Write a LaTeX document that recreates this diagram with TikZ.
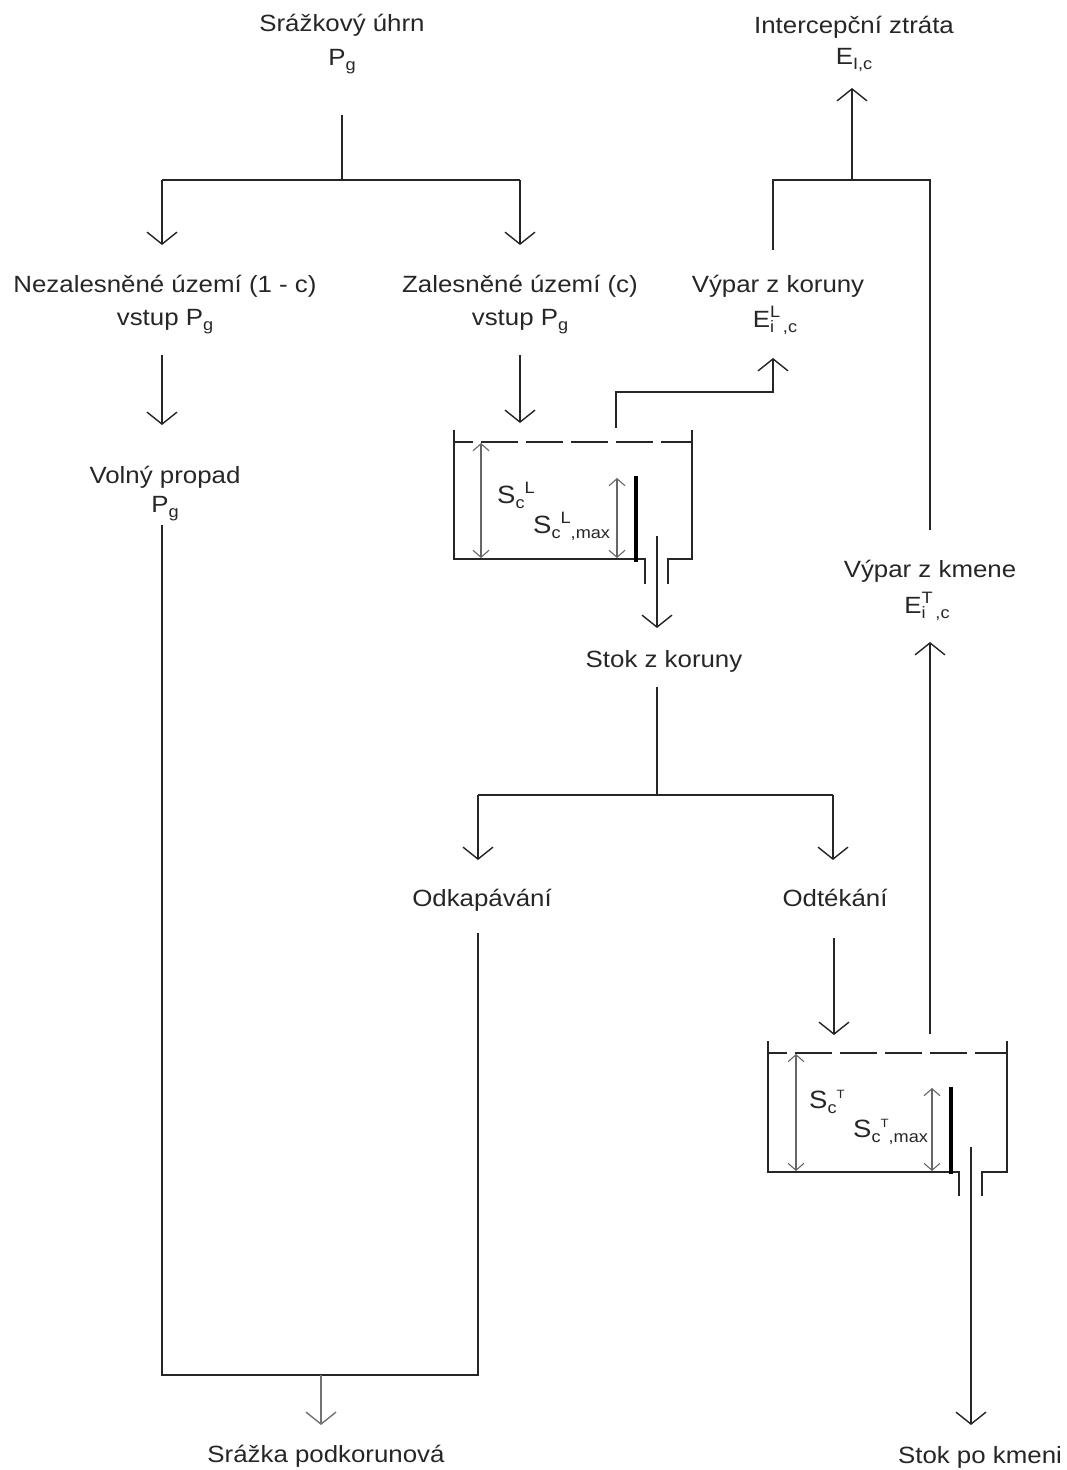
\documentclass[tikz,border=0pt]{standalone}
\usepackage{fontspec}
\setmainfont{Liberation Sans}[FakeStretch=1.1]
\usetikzlibrary{arrows.meta}
\newcommand\dn[1]{\raisebox{-5.5pt}{\fontsize{16.5}{16.5}\selectfont #1}}
\newcommand\up[1]{\raisebox{9.5pt}{\fontsize{16.5}{16.5}\selectfont #1}}
\begin{document}
\begin{tikzpicture}[x=1pt,y=-1pt,
  every node/.style={font=\fontsize{23.5}{28}\selectfont, inner sep=0pt, text=black!85},
  txt/.style={anchor=base},
  lbl/.style={anchor=base west, font=\fontsize{25}{28}\selectfont},
  ln/.style={line width=1.4pt, draw=black!85},
  arr/.style={ln, -{Straight Barb[length=12pt,width=30pt]}},
  garr/.style={line width=1.4pt, draw=black!55, -{Straight Barb[length=12pt,width=30pt]}},
  dim/.style={line width=1.1pt, draw=black!60, {Straight Barb[length=7pt,width=16pt]}-{Straight Barb[length=7pt,width=16pt]}},
  weir/.style={line width=3.5pt, draw=black},
  tankdash/.style={ln, dash pattern=on 37pt off 8pt, dash phase=18pt}
]
\path[use as bounding box] (0,0) rectangle (1067,1470);

% ---------------- labels
\node[txt] (srz)  at (342,31)  {Srážkový úhrn};
\node[txt] (srzP) at (342,65)  {P\dn{g}};
\node[txt] (int)  at (854,33)  {Intercepční ztráta};
\node[txt] (intE) at (854,64)  {E\dn{I,c}};
\node[txt] (nez)  at (165,292) {Nezalesněné území (1 - c)};
\node[txt] (nezP) at (165,325) {vstup P\dn{g}};
\node[txt] (zal)  at (520,292) {Zalesněné území (c)};
\node[txt] (zalP) at (520,325) {vstup P\dn{g}};
\node[txt] (vk)   at (778,292) {Výpar z koruny};
\node[txt] (vkE)  at (775,327) {E\rlap{\dn{i}}\up{L}\dn{\,,c}};
\node[txt] (vol)  at (165,483) {Volný propad};
\node[txt] (volP) at (165,512) {P\dn{g}};
\node[txt] (stk)  at (664,667) {Stok z koruny};
\node[txt] (vkm)  at (930,577) {Výpar z kmene};
\node[txt] (vkmE) at (927,613) {E\rlap{\dn{i}}\up{T}\dn{\,,c}};
\node[txt] (odk)  at (482,906) {Odkapávání};
\node[txt] (odt)  at (835,906) {Odtékání};
\node[txt] (srp)  at (326,1462) {Srážka podkorunová};
\node[txt] (spk)  at (980,1463) {Stok po kmeni};

% ---------------- coordinates
\coordinate (t0) at (342,115);
\coordinate (t1) at (342,180);
\coordinate (tL) at (162,180);
\coordinate (tR) at (520,180);
\coordinate (tLe) at (162,245);
\coordinate (tRe) at (520,245);
\coordinate (nA) at (162,355);
\coordinate (nB) at (162,425);
\coordinate (zA) at (520,355);
\coordinate (zB) at (520,423);
\coordinate (vA) at (162,525);
\coordinate (vB) at (162,1375);
\coordinate (kA) at (478,933);
\coordinate (kB) at (478,1375);
\coordinate (sA) at (321,1375);
\coordinate (sB) at (321,1425);
% tank 1 outputs
\coordinate (c1) at (616,428);
\coordinate (c2) at (616,392);
\coordinate (c3) at (773,392);
\coordinate (c4) at (773,358);
\coordinate (o1) at (657,536);
\coordinate (o2) at (657,628);
% interception
\coordinate (i1) at (773,250);
\coordinate (i2) at (773,180);
\coordinate (i3) at (930,180);
\coordinate (i4) at (930,530);
\coordinate (i5) at (852,180);
\coordinate (i6) at (852,88);
% stok z koruny split
\coordinate (d0) at (657,687);
\coordinate (d1) at (657,795);
\coordinate (dL) at (478,795);
\coordinate (dR) at (833,795);
\coordinate (dLe) at (478,860);
\coordinate (dRe) at (833,860);
\coordinate (e1) at (834,938);
\coordinate (e2) at (834,1035);
% tank 2 outputs
\coordinate (f1) at (930,1034);
\coordinate (f2) at (930,642);
\coordinate (g1) at (971,1147);
\coordinate (g2) at (971,1425);

% ---------------- connectors
\draw[ln] (t0) -- (t1);
\draw[ln] (tL) -- (tR);
\draw[arr] (tL) -- (tLe);
\draw[arr] (tR) -- (tRe);
\draw[arr] (nA) -- (nB);
\draw[arr] (zA) -- (zB);
\draw[ln] (vA) -- (vB) -- (kB) -- (kA);
\draw[garr] (sA) -- (sB);
\draw[arr] (c1) -- (c2) -- (c3) -- (c4);
\draw[arr] (o1) -- (o2);
\draw[ln] (i1) -- (i2) -- (i3) -- (i4);
\draw[arr] (i5) -- (i6);
\draw[ln] (d0) -- (d1);
\draw[ln] (dL) -- (dR);
\draw[arr] (dL) -- (dLe);
\draw[arr] (dR) -- (dRe);
\draw[arr] (e1) -- (e2);
\draw[arr] (f1) -- (f2);
\draw[arr] (g1) -- (g2);

% ---------------- tank 1 (crown)
\draw[ln] (454,430) -- (454,559) -- (645,559) -- (645,584);
\draw[ln] (692,430) -- (692,559) -- (668,559) -- (668,584);
\draw[tankdash] (454,442) -- (692,442);
\draw[weir] (636,476) -- (636,562);
\draw[dim] (481,443) -- (481,558);
\draw[dim] (617,478) -- (617,558);
\node[lbl] (sc1)  at (497,503) {S\dn{c}\up{L}};
\node[lbl] (sc1m) at (533,533) {S\dn{c}\up{L}\dn{,max}};

% ---------------- tank 2 (trunk)
\draw[ln] (768,1041) -- (768,1172) -- (959,1172) -- (959,1196);
\draw[ln] (1007,1041) -- (1007,1172) -- (982,1172) -- (982,1196);
\draw[tankdash] (768,1053) -- (1007,1053);
\draw[weir] (951,1087) -- (951,1174);
\draw[dim] (796,1054) -- (796,1171);
\draw[dim] (932,1088) -- (932,1171);
\node[lbl] (sc2)  at (809,1108) {S\dn{c}\up{\fontsize{12}{12}\selectfont T}};
\node[lbl] (sc2m) at (853,1137) {S\dn{c}\up{\fontsize{12}{12}\selectfont T}\dn{,max}};
\end{tikzpicture}
\end{document}
